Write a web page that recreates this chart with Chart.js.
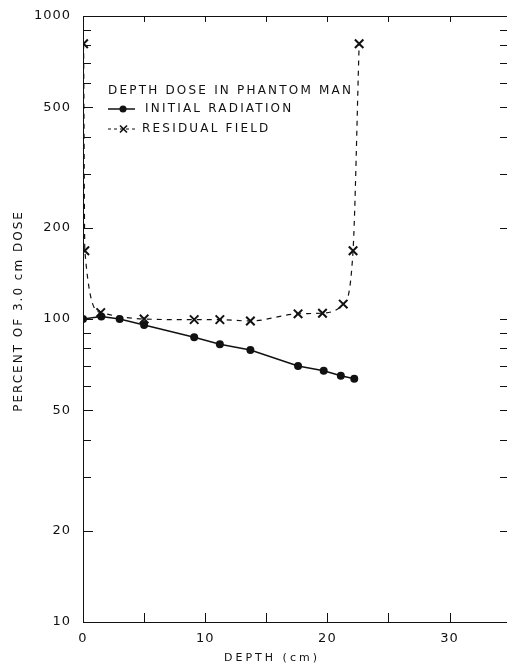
<!DOCTYPE html>
<html>
<head>
<meta charset="utf-8">
<script src="https://cdn.jsdelivr.net/npm/chart.js@4.4.1/dist/chart.umd.min.js"></script>
<style>
  html, body { margin: 0; padding: 0; background: #fff; overflow: hidden; }
  #wrap { width: 515px; height: 669px; position: relative; }
</style>
</head>
<body>
<div id="wrap"><canvas id="doseChart"></canvas></div>
<script>
// Depth dose in phantom man (percent of 3.0 cm dose)
const initialDepth = [0, 1.5, 3.0, 5.0, 9.1, 11.2, 13.7, 17.6, 19.7, 21.1, 22.2];
const initialDose = [100, 102, 100, 95.5, 87, 82.5, 79, 70, 67.5, 65, 63.5];

const residualDepth = [0.05, 0.15, 1.45, 5.0, 9.1, 11.2, 13.7, 17.6, 19.6, 21.3, 22.1, 22.6];
const residualDose = [810, 168, 105, 100, 99.5, 99.5, 98.5, 104, 104.5, 112, 168, 810];

// Axis ticks
const yTickValues = [10, 20, 30, 40, 50, 60, 70, 80, 90,
                     100, 200, 300, 400, 500, 600, 700, 800, 900, 1000];
const yLabelValues = [10, 20, 50, 100, 200, 500, 1000];
const xTickValues = [5, 10, 15, 20, 25, 30];
const xLabelValues = [0, 10, 20, 30];

const ink = '#111';
const fontFamily = '"DejaVu Sans", sans-serif';

// Draws the frame, inward tick marks, axis titles and the legend box
const framePlugin = {
    id: 'frame',
    beforeDraw(chart) {
        chart.ctx.letterSpacing = '1px';
    },
    afterDraw(chart) {
        const { ctx, chartArea: a, scales: { x, y } } = chart;
        ctx.save();
        ctx.strokeStyle = ink;
        ctx.fillStyle = ink;
        ctx.lineWidth = 1;

        ctx.beginPath();
        ctx.moveTo(a.left + 0.5, a.top + 0.5);
        ctx.lineTo(a.left + 0.5, a.bottom + 0.5);
        ctx.lineTo(a.right, a.bottom + 0.5);
        ctx.moveTo(a.left, a.top + 0.5);
        ctx.lineTo(a.right, a.top + 0.5);

        y.ticks.forEach(t => {
            const py = Math.round(y.getPixelForValue(t.value)) + 0.5;
            const len = yLabelValues.includes(t.value) ? 10 : 8;
            ctx.moveTo(a.left, py);
            ctx.lineTo(a.left + len, py);
            ctx.moveTo(a.right, py);
            ctx.lineTo(a.right - 7, py);
        });
        xTickValues.forEach(v => {
            const px = Math.round(x.getPixelForValue(v)) + 0.5;
            ctx.moveTo(px, a.bottom);
            ctx.lineTo(px, a.bottom - 9);
            ctx.moveTo(px, a.top);
            ctx.lineTo(px, a.top + 6);
        });
        ctx.stroke();

        // Axis titles
        ctx.textBaseline = 'middle';
        ctx.textAlign = 'center';
        ctx.font = '11px ' + fontFamily;
        ctx.letterSpacing = '3px';
        ctx.fillText('DEPTH (cm)', 272, 658);

        ctx.save();
        ctx.translate(19, 311);
        ctx.rotate(-Math.PI / 2);
        ctx.font = '12px ' + fontFamily;
        ctx.letterSpacing = '2px';
        ctx.fillText('PERCENT OF 3.0 cm DOSE', 0, 0);
        ctx.restore();

        // Legend
        const lx = a.left + 25;
        ctx.textAlign = 'left';
        ctx.font = '12px ' + fontFamily;
        ctx.letterSpacing = '2.2px';
        ctx.fillText('DEPTH DOSE IN PHANTOM MAN', lx, a.top + 75);

        const r1 = a.top + 93;
        ctx.beginPath();
        ctx.lineWidth = 1.5;
        ctx.moveTo(lx, r1);
        ctx.lineTo(lx + 27, r1);
        ctx.stroke();
        ctx.beginPath();
        ctx.arc(lx + 15, r1, 3.5, 0, Math.PI * 2);
        ctx.fill();
        ctx.fillText(chart.data.datasets[0].label, lx + 37, r1);

        const r2 = a.top + 113;
        ctx.beginPath();
        ctx.lineWidth = 1.2;
        ctx.setLineDash([3, 3]);
        ctx.moveTo(lx, r2);
        ctx.lineTo(lx + 30, r2);
        ctx.stroke();
        ctx.setLineDash([]);
        ctx.beginPath();
        ctx.lineWidth = 1.6;
        ctx.moveTo(lx + 12, r2 - 3.5);
        ctx.lineTo(lx + 19, r2 + 3.5);
        ctx.moveTo(lx + 19, r2 - 3.5);
        ctx.lineTo(lx + 12, r2 + 3.5);
        ctx.stroke();
        ctx.fillText(chart.data.datasets[1].label, lx + 34, r2);

        ctx.restore();
    }
};

const ctx = document.getElementById('doseChart');

new Chart(ctx, {
    type: 'line',
    data: {
        datasets: [{
            label: 'INITIAL RADIATION',
            data: initialDepth.map((d, i) => ({ x: d, y: initialDose[i] })),
            borderColor: ink,
            backgroundColor: ink,
            borderWidth: 1.5,
            pointStyle: 'circle',
            pointRadius: 4,
            pointBorderWidth: 0,
            tension: 0
        }, {
            label: 'RESIDUAL FIELD',
            data: residualDepth.map((d, i) => ({ x: d, y: residualDose[i] })),
            borderColor: ink,
            backgroundColor: ink,
            borderWidth: 1.2,
            borderDash: [5, 5],
            pointStyle: 'crossRot',
            pointRadius: 6,
            pointBorderWidth: 2,
            cubicInterpolationMode: 'monotone'
        }]
    },
    options: {
        responsive: true,
        maintainAspectRatio: false,
        animation: false,
        layout: {
            padding: { top: 16, right: 1, left: 0, bottom: 0 }
        },
        plugins: {
            legend: { display: false },
            tooltip: { enabled: false }
        },
        scales: {
            x: {
                type: 'linear',
                min: 0,
                max: 34.7,
                grid: { display: false, drawTicks: false },
                border: { display: false },
                afterFit: scale => {
                    scale.height = 47;
                    scale.paddingLeft = 0;
                    scale.paddingRight = 0;
                },
                ticks: {
                    stepSize: 5,
                    includeBounds: false,
                    autoSkip: false,
                    maxRotation: 0,
                    padding: 9,
                    color: ink,
                    font: { family: fontFamily, size: 13 },
                    callback: v => xLabelValues.includes(v) ? String(v) : ''
                }
            },
            y: {
                type: 'logarithmic',
                min: 10,
                max: 1000,
                grid: { display: false, drawTicks: false },
                border: { display: false },
                afterFit: scale => {
                    scale.width = 83;
                    scale.paddingTop = 0;
                    scale.paddingBottom = 0;
                },
                afterBuildTicks: scale => {
                    scale.ticks = yTickValues.map(v => ({ value: v }));
                },
                ticks: {
                    autoSkip: false,
                    padding: 12,
                    color: ink,
                    font: { family: fontFamily, size: 13 },
                    callback: v => yLabelValues.includes(v) ? String(v) : ''
                }
            }
        }
    },
    plugins: [framePlugin]
});
</script>
</body>
</html>
